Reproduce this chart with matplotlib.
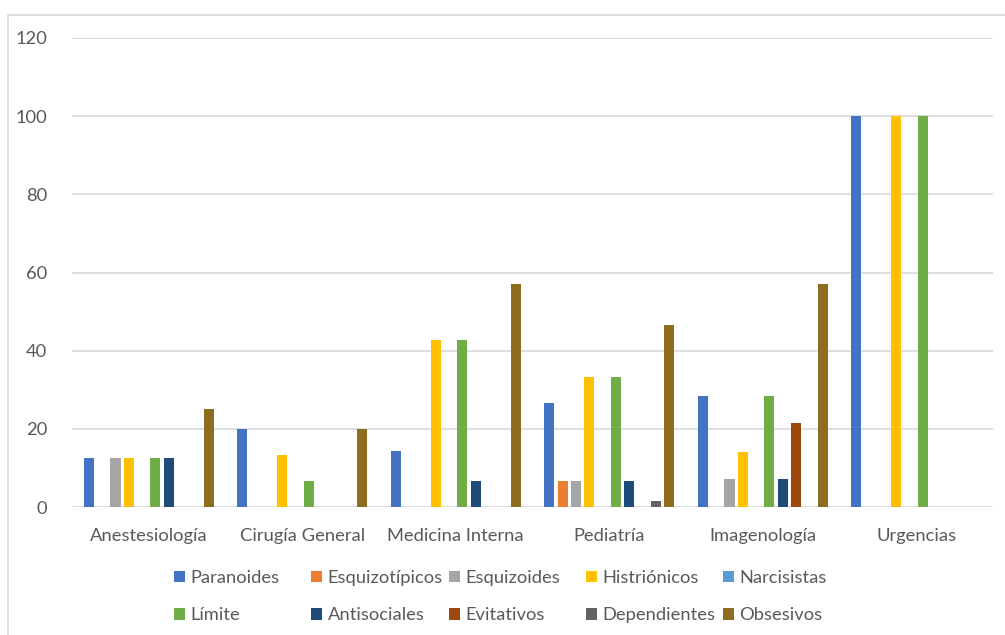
import matplotlib
matplotlib.use("Agg")
import matplotlib.pyplot as plt
from matplotlib.patches import Rectangle
import numpy as np

plt.rcParams['font.family'] = ['Lato', 'DejaVu Sans']

categories = ["Anestesiología", "Cirugía General", "Medicina Interna", "Pediatría", "Imagenología", "Urgencias"]
series_names = ["Paranoides", "Esquizotípicos", "Esquizoides", "Histriónicos", "Narcisistas",
                "Límite", "Antisociales", "Evitativos", "Dependientes", "Obsesivos"]
colors = ["#4472C4", "#ED7D31", "#A5A5A5", "#FFC000", "#5B9BD5",
          "#70AD47", "#1F4B7B", "#9E480E", "#636363", "#8E6D20"]

paranoides     = [12.5, 20.0, 14.3, 26.6, 28.5, 100]
esquizotipicos = [0, 0, 0, 6.6, 0, 0]
esquizoides    = [12.5, 0, 0, 6.6, 7.1, 0]
histrionicos   = [12.5, 13.3, 42.8, 33.3, 14.2, 100]
narcisistas    = [0, 0, 0, 0, 0, 0]
limite         = [12.5, 6.6, 42.8, 33.3, 28.5, 100]
antisociales   = [12.5, 0, 6.6, 6.6, 7.1, 0]
evitativos     = [0, 0, 0, 0, 21.4, 0]
dependientes   = [0, 0, 0, 1.5, 0, 0]
obsesivos      = [25.0, 20.0, 57.1, 46.6, 57.1, 0]

series_values = [paranoides, esquizotipicos, esquizoides, histrionicos, narcisistas,
                 limite, antisociales, evitativos, dependientes, obsesivos]
yticks = [0, 20, 40, 60, 80, 100, 120]

W, H = 1005, 635
fig = plt.figure(figsize=(W / 100, H / 100), dpi=100)
ax = fig.add_axes([72 / W, 1 - 507 / H, (993 - 72) / W, (507 - 38) / H])

text_color = "#595959"
grid_color = "#D9D9D9"
fs = 13.2

x = np.arange(len(categories))
step = 0.0866
width = 0.066
handles = []
for i, (name, vals, c) in enumerate(zip(series_names, series_values, colors)):
    offs = (i - 4.5) * step
    b = ax.bar(x + offs, vals, width=width, color=c, label=name, zorder=3)
    handles.append(b)

ax.set_xlim(-0.5, len(categories) - 0.5)
ax.set_ylim(0, 120)
ax.set_yticks(yticks)
ax.set_xticks(x)
ax.set_xticklabels(categories)
ax.yaxis.grid(True, color=grid_color, linewidth=1.2, zorder=0)
ax.set_axisbelow(True)
for s in ax.spines.values():
    s.set_visible(False)
ax.tick_params(axis='both', length=0, colors=text_color, labelsize=fs)
ax.tick_params(axis='y', pad=18)
ax.tick_params(axis='x', pad=15)

# legend: 5 columns, 2 rows
col_x = [174, 311, 449, 586, 723]
for col in range(5):
    hs = [handles[col], handles[col + 5]]
    ls = [series_names[col], series_names[col + 5]]
    fig.legend(hs, ls, loc='upper left',
               bbox_to_anchor=(col_x[col] / W, 1 - 570 / H),
               frameon=False, fontsize=fs, labelcolor=text_color,
               handlelength=0.6, handleheight=0.6, handletextpad=0.3,
               labelspacing=1.17, borderpad=0, borderaxespad=0)

# outer chart border
fig.patches.append(Rectangle((8 / W, -0.1), 1.2, 1 - 15 / H + 0.1,
                             transform=fig.transFigure, fill=False,
                             edgecolor=grid_color, linewidth=1.2))

fig.savefig("out.png", dpi=100)
